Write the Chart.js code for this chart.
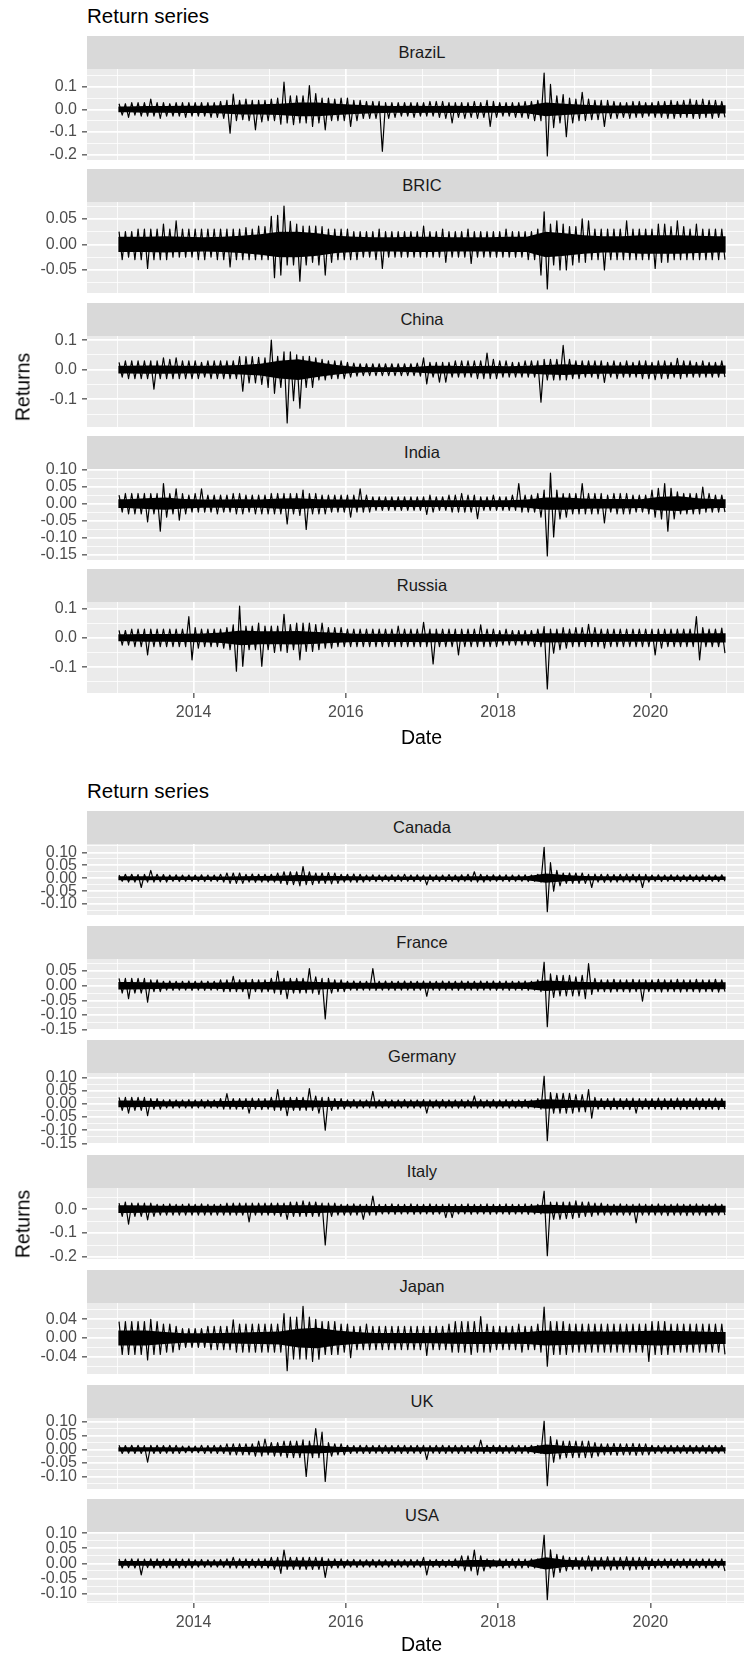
<!DOCTYPE html>
<html>
<head>
<meta charset="utf-8">
<script src="https://cdn.jsdelivr.net/npm/chart.js@4.4.0/dist/chart.umd.min.js"></script>
<style>
  html, body { margin: 0; padding: 0; background: #fff; overflow: hidden; }
  body { width: 744px; height: 1656px; position: relative; font-family: "Liberation Sans", Arial, sans-serif; }
  .txt { position: absolute; white-space: nowrap; }
  .strip { position: absolute; left: 87px; width: 670px; background: #d9d9d9; color: #1a1a1a;
           font-size: 16.5px; text-align: center; }
  canvas { position: absolute; left: 0; }
</style>
</head>
<body>
<script>
// Monthly high / low daily returns in percent, Jan 2013 .. Dec 2020 (one line per year)
const brazilHi = [
  2.5,2.5,3,3,3,4.5,3,3,2.5,3,3,3,
  3,3,3,3,3.5,4,6.7,4,4.5,4,4,4,
  4.5,5,12,6,6,6,10.5,7,5,5,4.5,5,
  5,4,4,3.5,3.5,3.5,3,3,3,3,3,3,
  3,3.5,3.5,3.5,3,3,3,3,3.5,3,4,3.5,
  3,3,3,3,3.5,3.5,4,16,11,6,6.5,5,
  4.5,7.5,4.5,4,4,4,3.5,3,3,3.5,3.5,3,
  3,3.5,3.5,4,3.5,4,4.5,4,4.5,4,4,3.5];
const brazilLo = [
  -2.5,-3.5,-2.5,-3,-3,-3,-4,-3,-3,-3,-3.5,-3,
  -3,-3,-3.5,-3.5,-4,-10.5,-5,-4.5,-5,-9,-5.5,-5,
  -5,-6.5,-6,-6.7,-6,-6,-7.5,-6,-9,-5,-5,-5,
  -7.5,-5,-4,-4,-4,-18.5,-4,-3.5,-3,-3,-3.5,-3,
  -3,-3,-3.5,-4,-6,-3.5,-4,-3.5,-4,-3.5,-7.5,-3.5,
  -3,-3,-3.5,-3.5,-4,-5,-5,-20.5,-8,-6,-12,-6,
  -5,-5,-4.5,-4.5,-7.5,-4,-4,-3.5,-4,-3.5,-3.5,-3,
  -3.5,-3.5,-4,-4,-3.5,-3.5,-4,-4,-3.5,-4,-3.5,-3.5];

const bricHi = [
  2.5,2.5,2.5,3,3,3,3,4,3,4.6,3,3,
  3,3,3,3,3,3,3,3,3.3,3,3.6,3.5,
  5.5,5.7,7.5,4.5,4,3.6,3.6,3.6,3.5,3,3,3,
  3,2.5,2.5,2.5,2.5,3,2.5,2.5,2.5,2.5,2.5,2.5,
  3.6,2.5,2.5,3,2.5,2.5,2.5,3,2.5,2.5,2.5,2.5,
  2.5,3,2.5,2.5,2.5,2.5,3,6.4,4,4.6,4,3.5,
  3.5,5,4.6,3,3,3,3,3,4.6,3,3,3,
  3,4,4,3.5,4.6,3.5,3,4,3,3,3,3];
const bricLo = [
  -3,-2.5,-3,-3,-4.7,-3,-3,-3,-2.5,-2.5,-2.5,-2.5,
  -3,-3,-2.5,-3,-3,-4.4,-3,-3,-3,-3,-3,-3,
  -6.5,-6,-4,-4,-7.2,-4,-3.5,-4,-6,-3.5,-3,-3,
  -3,-3,-2.5,-2.5,-3,-4.7,-2.5,-2.5,-2.5,-2.5,-2.5,-2.5,
  -2.5,-2.5,-2.5,-3.5,-2.5,-2.5,-2.5,-3.7,-2.5,-2.5,-2.5,-2.5,
  -2.5,-2.5,-2.5,-2.5,-3,-3,-6,-8.7,-4,-5,-5,-4,
  -3.5,-3.5,-3,-3,-5,-3,-3,-3,-3,-3,-3,-3,
  -4.7,-3.5,-3.5,-3,-3,-3,-3,-3,-3,-3,-3,-3];

const chinaHi = [
  2.5,3,3,3,3,3,3,4,3.5,4,3,3,
  3,2.5,3,3,3,3,3,4.4,4.4,4.4,4.2,4,
  10,4.5,6,6,5,4.5,4.5,4,3.5,3,3,3,
  2.5,2.2,2,2,2,2,2,2,2,2,2,2.2,
  4,2.5,2.5,2.5,2.5,3,3,3,3,3,5.6,3.5,
  3,3,2.5,2.5,3,3,3,3.5,3.5,3.5,8.2,3.5,
  3,3,3,3,3,2.5,3,2.5,3,2.5,3,3,
  2.5,3,3,2.5,3.8,3,3,2.5,3,2.5,2.5,3];
const chinaLo = [
  -2.5,-3,-3,-3,-3,-6.6,-3,-3,-3,-3,-3,-3,
  -3,-2.5,-3,-3,-3,-3,-3,-7.3,-4.5,-4.5,-5,-6,
  -8,-6,-18,-10.5,-13,-6,-6,-3.5,-3.5,-3,-3,-3,
  -2.5,-2.2,-2,-2,-2,-2,-2,-2,-2,-2,-2,-2.2,
  -4.8,-2.5,-4.2,-4.2,-2.5,-2.5,-2.5,-2.5,-3,-3,-3,-3,
  -2.5,-2.5,-2.5,-2.5,-2.5,-2.5,-11,-3.5,-3.5,-3.5,-3.5,-3,
  -3,-2.5,-2.5,-3,-4.3,-2.5,-3,-2.5,-2.5,-2.5,-3,-3,
  -3.4,-3,-3,-2.5,-3,-2.5,-2.5,-2.5,-2.5,-2.5,-2.5,-2.5];

const indiaHi = [
  2.5,3,3,3,3,3,3,5.9,3,4.4,3,2.5,
  3,4.4,2.5,2.5,2.5,2.5,3,3,2.5,2.5,2.5,2.5,
  3,3,3,3,3,4,3,3,2.5,2.5,2.5,2.5,
  2.5,2.5,4.4,2.5,2,2,2,2,2,2,2,2,
  2,2.5,2,2,2.5,2.5,3,2.5,2.5,2,2,2.5,
  2,2,2.5,5.9,2.5,2.5,3,4,9,4,3,3,
  3,5.9,3,3,3,2.5,3,3,3,2.5,2.5,2.5,
  4,4.5,5.9,4.5,3.5,3,3,3,4.9,3,2.5,2.5];
const indiaLo = [
  -2.5,-3,-3,-3,-5.4,-3,-8.1,-4,-3,-4.9,-3,-2.5,
  -2.5,-2.5,-2.5,-3,-2.5,-2.5,-3,-3,-2.5,-3,-3,-3,
  -3,-3,-6,-3,-3.5,-7.6,-3,-3,-3,-2.5,-2.5,-2.5,
  -4,-2.5,-2.5,-2.5,-2,-2,-2,-2,-2,-2,-2,-2,
  -3.2,-2.5,-2,-2,-2.5,-2.5,-2.5,-2.5,-4.4,-2,-2,-2,
  -2,-2,-2,-2.5,-2.5,-2.5,-4,-15.4,-9.8,-4.5,-4,-3,
  -3,-3,-3,-3,-5.7,-2.5,-3,-3,-3,-2.5,-2.5,-3,
  -4,-4.5,-8.1,-4.5,-3,-3,-3,-3,-2.5,-2.5,-2.5,-2.5];

const russiaHi = [
  2.5,2.5,3,3,3,3,3,3,3,3,3,7.2,
  3.5,3,3,3,3,3.5,4.4,10.8,4,4,5,4,
  4,4,8,4.5,5,5,5,4.5,5,3.5,3.5,3.5,
  3,3,3,3,3,3,3,3,4,3,3,3,
  5.3,3,3,3,3,3,3,3,3,4.4,3,3,
  2.5,3,2.5,2.5,2.5,2.5,3,3.8,3,3,3.5,3,
  3.5,3.5,4.6,3.5,3,3,3,3,3,3,3,3,
  3,3,3,3,3,3,3,7.2,3.5,3,3,3.3];
const russiaLo = [
  -2.5,-2.5,-3,-3,-5.8,-3,-3,-3,-3,-3,-3,-7.5,
  -3.5,-3,-3,-3,-3.5,-4,-11.4,-9.7,-4,-4,-9.7,-4,
  -5,-4.5,-5,-4,-7.5,-4.6,-4.6,-4,-3.5,-3.5,-3,-3,
  -3,-3,-3,-3,-3,-3,-3,-3,-3,-3,-3,-3,
  -3,-8.9,-3,-3,-3,-5.8,-3,-3,-3,-3,-3,-3,
  -2.5,-2.5,-2.5,-2.5,-2.5,-3,-3,-17.4,-5.2,-4,-3.5,-3,
  -3,-3,-3,-3,-3.5,-3,-3,-3,-3,-3,-3,-3,
  -5.8,-3.5,-3,-3,-3,-3,-3,-7.5,-3,-3,-3,-5.2];

const canadaHi = [
  1.2,1.5,1.5,1.4,1.5,3,1.5,1.4,1.2,1.3,1.2,1.2,
  1.2,1.3,1.2,1.2,1.5,2,2,2,1.5,1.6,1.5,1.5,
  1.5,2,2.5,2.5,2.5,4.5,2.5,2,2,2.2,2,1.5,
  1.5,1.6,1.5,1.2,1.3,1.2,1.2,1.3,1.2,1.5,1.2,1.3,
  1.2,1.3,1.2,1.2,1.4,1.2,1.3,1.5,2.5,1.5,1.2,1.3,
  1.2,1.3,1.2,1.2,1.3,1.2,1.5,12,6,3,2,2,
  2,2,1.5,1.6,1.5,1.5,1.4,1.5,1.6,1.5,1.5,1.5,
  1.2,1.3,1.2,1.3,1.2,1.2,1.3,1.2,1.3,1.2,1.2,1.3];
const canadaLo = [
  -1.2,-1.5,-1.5,-3.6,-1.5,-1.5,-1.4,-1.5,-1.2,-1.3,-1.2,-1.2,
  -1.2,-1.3,-1.2,-1.2,-1.5,-2,-2,-2,-1.5,-1.6,-1.5,-1.5,
  -1.5,-2,-2.5,-2.5,-3,-2.5,-2.5,-2,-2,-2.2,-2,-1.5,
  -1.5,-1.6,-1.5,-1.2,-1.3,-1.2,-1.2,-1.3,-1.2,-1.2,-1.3,-1.2,
  -2.6,-1.2,-1.3,-1.2,-1.2,-1.4,-1.2,-1.3,-1.5,-1.5,-1.2,-1.2,
  -1.2,-1.3,-1.2,-1.2,-1.3,-1.2,-1.5,-13,-5,-3,-2,-2,
  -2,-2,-3.6,-1.5,-1.6,-1.5,-1.5,-1.4,-1.5,-1.5,-3.6,-1.5,
  -1.2,-1.3,-1.2,-1.2,-1.3,-1.2,-1.2,-1.3,-1.2,-1.2,-1.3,-1.2];

const franceHi = [
  2.5,2.5,2.5,2.5,2.5,2,2,1.5,1.6,1.5,1.5,1.6,
  1.5,1.6,1.5,1.5,2,2,3.2,2,2,2.2,2,2,
  2.5,5,2.5,2.5,2.5,2.5,5.8,3,2.5,2.5,2,2,
  1.5,1.6,1.5,1.5,5.8,1.5,1.6,1.5,1.5,1.6,1.5,1.5,
  1.6,1.5,1.5,1.6,1.5,1.5,1.6,1.5,1.5,1.6,1.5,1.6,
  1.5,1.6,1.5,1.5,1.6,1.5,2,8,4,3.5,3.5,3.5,
  3,3.5,7.5,2.5,2,2,2.2,2,2,2.2,2,2,
  2,2.2,2,2,2.2,2,2,2.2,2,2,2.2,2];
const franceLo = [
  -2.5,-4.4,-2.5,-2.5,-5.6,-2,-2,-1.5,-1.6,-1.5,-1.5,-1.6,
  -1.5,-1.6,-1.5,-1.5,-2,-2,-2,-2,-4.4,-2,-2.2,-2,
  -2.5,-3,-4.4,-2.5,-2.5,-2.5,-2.5,-3,-11.3,-2.5,-2,-2,
  -1.5,-1.6,-1.5,-1.5,-1.6,-1.5,-1.5,-1.6,-1.5,-1.5,-1.6,-1.5,
  -3.6,-1.5,-1.6,-1.5,-1.5,-1.6,-1.5,-1.5,-1.6,-1.5,-1.5,-1.6,
  -1.5,-1.6,-1.5,-1.5,-1.6,-1.5,-2,-14,-4,-3.5,-3.5,-3.5,
  -3.5,-4.4,-3,-2,-2,-2.2,-2,-2,-2.2,-2,-5.3,-2,
  -2,-2.2,-2,-2,-2.2,-2,-2,-2.2,-2,-2,-2.2,-2];

const germanyHi = [
  2.5,2.5,2.5,2.5,2.5,2,2,1.5,1.6,1.5,1.5,1.6,
  1.5,1.6,1.5,1.5,2,3.9,2,2,2,2.2,2,2,
  2.5,5.4,2.5,2.5,2.5,2.5,5.8,3,2.5,2.5,2,2,
  1.5,1.6,1.5,1.5,4.8,1.5,1.6,1.5,1.5,1.6,1.5,1.5,
  1.6,1.5,1.5,1.6,1.5,1.5,1.6,1.5,3,1.6,1.5,1.6,
  1.5,1.6,1.5,1.5,1.6,1.5,2,10.5,4.3,4,4,4,
  3.5,3.5,5.4,2.5,2,2,2.2,2,2,2.2,2,2,
  2,2.2,2,2,2.2,2,2,2.2,2,2,2.2,2];
const germanyLo = [
  -2.5,-3.5,-2.5,-2.5,-4.5,-2,-2,-1.5,-1.6,-1.5,-1.5,-1.6,
  -1.5,-1.6,-1.5,-1.5,-2,-2,-2,-2,-3.5,-2,-2.2,-2,
  -2.5,-2.5,-4.5,-2.5,-2.5,-2.5,-2.5,-3.5,-10,-2.5,-2,-2,
  -1.5,-1.6,-1.5,-1.5,-1.6,-1.5,-1.5,-1.6,-1.5,-1.5,-1.6,-1.5,
  -3.5,-1.5,-1.6,-1.5,-1.5,-1.6,-1.5,-1.5,-1.6,-1.5,-1.5,-1.6,
  -1.5,-1.6,-1.5,-1.5,-1.6,-1.5,-2,-14,-3.5,-3.5,-3.5,-3.5,
  -3,-3,-5.4,-2,-2,-2.2,-2,-2,-2.2,-3.5,-2,-2,
  -2,-2.2,-2,-2,-2.2,-2,-2,-2.2,-2,-2,-2.2,-2];

const italyHi = [
  2.5,3,2.5,2.5,2.5,2.5,2,2,2.2,2,2,2.2,
  2,2.2,2,2,2,2.5,2.5,2.5,2.5,2.5,2.5,2.5,
  2.5,2.5,2.5,3,3,3.5,3,3,2.5,2.5,2.5,2,
  2,2.2,2,2,5.5,2,2,2.2,2,2,2.2,2,
  2,2.2,2,2,2.2,2,2,2.2,2,2,2.2,2,
  2,2.2,2,2,2.2,2,2,7.5,3,3,3,3,
  3.5,3,3,2.5,2.5,2,2,2.2,2,2,2.2,2,
  2,2.2,2,2,2.2,2,2,2.2,2,2,2.2,2];
const italyLo = [
  -3,-6.3,-3,-3,-4.5,-3,-2.5,-2.5,-2.5,-2.5,-2.5,-2.5,
  -2.5,-2.5,-2.5,-2.5,-2.5,-2.5,-2.5,-2.5,-5.3,-2.5,-2.5,-2.5,
  -2.5,-3,-4.3,-3,-3,-3,-3,-3,-15,-3,-2.5,-2.5,
  -2.5,-2.5,-4.3,-2.5,-2.5,-2,-2,-2.2,-2,-2,-2.2,-2,
  -2,-2.2,-2,-3.5,-3.5,-2,-2,-2.2,-2,-2,-2.2,-2,
  -2,-2.2,-2,-2,-2.2,-2,-2,-19.5,-4.3,-4.3,-4,-4,
  -3.5,-3,-3,-2.5,-2.5,-2.5,-2.5,-2.5,-2.5,-5.7,-2.5,-2.5,
  -2.5,-2.5,-2.7,-2.5,-2.5,-2.7,-2.5,-2.5,-2.7,-2.5,-2.5,-2.5];

const japanHi = [
  3.5,3.5,3.5,3.5,3.5,4,3.5,3,3,2.5,2,2,
  2,2,2.5,2.5,2.5,2.5,3.9,3,3,3,3,3,
  3,3,5.2,4.5,4.5,6.8,4.5,4,3.5,3.5,3.5,3,
  3,2.5,2.5,3,2.5,2.5,2.5,2.5,2.5,2.5,2.5,2.5,
  2.5,2.5,2.5,2.5,3,3.5,3.5,3.5,3.5,4.6,3,2.5,
  2.5,2.5,2.5,3,2.5,2.5,3,6.6,3.5,3.5,3.5,3,
  3,3,3,3,3,3,3,3,3,3,3,3,
  3.5,3.5,3.5,3,3,3,3,3,3,3,3,3];
const japanLo = [
  -3.5,-3.5,-3.5,-3.5,-4.7,-3.5,-3.5,-3,-3,-2.5,-2,-2,
  -2,-2,-2.5,-2.5,-2.5,-2.5,-3,-3,-3,-3,-3,-3,
  -3,-3,-7,-4.5,-4.5,-4.5,-5,-4.5,-3.5,-3.5,-3.5,-3,
  -4.2,-2.5,-2.5,-2.5,-2.5,-2.5,-2.5,-2.5,-2.5,-2.5,-2.5,-2.5,
  -3.7,-2.5,-2.5,-2.5,-3,-3,-3,-3.5,-3,-3,-3,-2.5,
  -2.5,-2.5,-2.5,-3,-2.5,-2.5,-3,-6,-3.5,-3.5,-3.5,-3,
  -3,-3,-3,-3,-3,-3,-3,-3,-3,-3,-3,-5,
  -3.5,-3.5,-3.5,-3,-3,-3,-3,-3,-3,-3,-3,-3.5];

const ukHi = [
  1.5,1.4,1.5,1.5,1.4,1.5,1.5,1.4,1.5,1.5,1.2,1.2,
  1.2,1.5,1.4,1.5,1.5,2,2,2,2,2,3,3.8,
  2.5,2.5,3,3,3,3.5,3,7.6,6.3,2.5,2,2,
  1.5,1.4,1.5,1.5,1.4,1.5,1.5,1.4,1.5,1.5,1.4,1.5,
  1.5,1.4,1.5,1.5,1.4,1.5,1.5,1.4,1.5,3.4,1.5,1.5,
  1.5,1.4,1.5,1.5,1.4,1.5,1.5,10.3,4.7,3.5,3,3,
  3,3,3,2.5,2,2,2.2,2,2,2.2,2,2,
  1.5,1.4,1.5,1.5,1.4,1.5,1.5,1.4,1.5,1.5,1.4,1.5];
const ukLo = [
  -1.5,-1.4,-1.5,-1.5,-4.7,-1.5,-1.5,-1.4,-1.5,-1.5,-1.2,-1.2,
  -1.2,-1.5,-1.4,-1.5,-1.5,-2,-2,-2,-2,-2.5,-2.5,-2,
  -2.5,-2.5,-3,-3,-3,-9.9,-3,-3,-11.7,-2.5,-2,-2,
  -1.5,-1.4,-1.5,-1.5,-1.4,-1.5,-1.5,-1.4,-1.5,-1.5,-1.4,-1.5,
  -3.7,-1.4,-1.5,-1.5,-1.4,-1.5,-1.5,-1.4,-1.5,-1.5,-1.4,-1.5,
  -1.5,-1.4,-1.5,-1.5,-1.4,-1.5,-1.5,-13.3,-4.7,-3.5,-3,-3,
  -3,-3,-3,-2.5,-2,-2,-2.2,-2,-2,-2.2,-2,-2,
  -1.5,-1.4,-1.5,-1.5,-1.4,-1.5,-1.5,-1.4,-1.5,-1.5,-1.4,-1.5];

const usaHi = [
  1.5,1.4,1.5,1.5,1.4,1.5,1.5,1.4,1.5,1.5,1.4,1.5,
  1.2,1.3,1.2,1.2,1.3,1.5,2,1.5,1.5,1.4,1.5,1.5,
  2,2,4.4,2,2,2,2,2,2,1.5,1.5,1.5,
  1.2,1.3,1.2,1.2,1.3,1.2,1.2,1.3,1.2,1.2,1.3,1.2,
  2,1.2,1.3,1.2,1.2,1.5,2.5,2.5,4.4,2.5,1.5,1.2,
  1.5,1.4,1.5,1.5,1.4,1.5,1.5,9.3,4.5,3,2.5,2,
  2,2,2.5,2,2,2.2,2,2,2.2,2,2,2,
  1.5,1.4,1.5,1.5,1.4,1.5,1.5,1.4,1.5,1.5,1.4,1.5];
const usaLo = [
  -1.5,-1.4,-1.5,-3.8,-1.4,-1.5,-1.5,-1.4,-1.5,-1.5,-1.4,-1.5,
  -1.2,-1.3,-1.2,-1.2,-1.3,-1.5,-1.5,-1.5,-1.5,-1.4,-1.5,-1.5,
  -2,-3.3,-2,-2,-2,-2,-2,-2,-4.6,-1.5,-1.5,-1.5,
  -1.2,-1.3,-1.2,-1.2,-1.3,-1.2,-1.2,-1.3,-1.2,-1.2,-1.3,-1.2,
  -3.8,-1.2,-1.3,-1.2,-1.2,-1.5,-2.5,-2.5,-3.8,-2.5,-1.5,-1.2,
  -1.5,-1.4,-1.5,-1.5,-1.4,-1.5,-1.5,-12,-4.5,-3,-2.5,-2,
  -2,-2,-2.5,-2,-2,-2.2,-2,-2,-2.2,-2,-2,-2,
  -1.5,-1.4,-1.5,-1.5,-1.4,-1.5,-1.5,-1.4,-1.5,-1.5,-1.4,-2.5];

// Quarterly half-width of the dense core of the series, percent, 2013Q1 .. 2020Q4
const brazilCore  = [1.3,1.5,1.5,1.6, 1.6,1.8,2.2,2.3, 2.5,3,3,2.5, 2,1.7,1.5,1.6, 1.5,1.6,1.5,1.5, 1.5,1.7,3,2.5, 2,1.7,1.7,1.8, 1.8,2,2,1.8];
const bricCore    = [1.5,1.5,1.6,1.5, 1.4,1.5,1.7,2, 2.5,2.5,2.2,1.7, 1.5,1.4,1.4,1.5, 1.5,1.4,1.4,1.4, 1.5,1.5,2.5,2.2, 1.8,1.6,1.6,1.8, 1.8,1.8,1.7,1.6];
const chinaCore   = [1.3,1.4,1.4,1.3, 1.3,1.4,1.6,2, 3,3.5,2.5,1.6, 1,0.8,0.8,0.9, 1.3,1.3,1.2,1.3, 1.2,1.3,1.6,1.8, 1.5,1.4,1.4,1.5, 1.4,1.5,1.4,1.4];
const indiaCore   = [1.3,1.6,1.8,1.4, 1.2,1.2,1.3,1.2, 1.5,1.6,1.3,1.2, 1.2,1,1,1, 1,1,1,1, 1,1.2,1.8,1.8, 1.5,1.4,1.4,1.3, 2,2.2,1.6,1.3];
const russiaCore  = [1.2,1.3,1.3,1.4, 1.5,1.8,2.5,2.2, 2.2,2.3,2,1.7, 1.4,1.4,1.4,1.4, 1.5,1.3,1.3,1.3, 1.2,1.2,1.6,1.5, 1.4,1.4,1.3,1.3, 1.3,1.5,1.5,1.6];
const canadaCore  = [0.8,0.8,0.7,0.7, 0.7,0.7,0.8,0.9, 1,1.2,1,0.9, 0.8,0.7,0.7,0.7, 0.7,0.7,0.8,0.8, 0.7,0.8,1.8,1.2, 0.9,0.8,0.8,0.8, 0.7,0.7,0.7,0.7];
const franceCore  = [1.3,1.2,1,1, 1,1.1,1.2,1.2, 1.4,1.5,1.3,1.1, 1,1,1,1, 1,1,1,1, 1,1.1,1.8,1.5, 1.3,1.2,1.2,1.2, 1.2,1.2,1.2,1.2];
const germanyCore = [1.3,1.2,1,1, 1,1.1,1.2,1.2, 1.4,1.5,1.3,1.1, 1,1,1,1, 1,1,1,1, 1,1.1,1.8,1.6, 1.3,1.2,1.2,1.2, 1.2,1.2,1.2,1.2];
const italyCore   = [1.6,1.5,1.4,1.4, 1.4,1.4,1.5,1.5, 1.6,1.6,1.6,1.4, 1.4,1.3,1.3,1.3, 1.3,1.3,1.3,1.3, 1.3,1.3,1.8,1.6, 1.5,1.4,1.4,1.4, 1.4,1.4,1.4,1.4];
const japanCore   = [1.6,1.6,1.3,1, 1,1.1,1.2,1.3, 1.4,2,2.2,1.6, 1.3,1.1,1.1,1.1, 1.1,1.2,1.3,1.3, 1.2,1.3,1.6,1.5, 1.4,1.4,1.4,1.5, 1.6,1.5,1.4,1.3];
const ukCore      = [0.8,0.8,0.8,0.7, 0.7,0.8,0.9,1.1, 1.2,1.4,1.5,1, 0.8,0.8,0.8,0.8, 0.8,0.8,0.8,0.9, 0.8,0.8,1.8,1.3, 1.1,1,0.9,0.9, 0.8,0.8,0.8,0.8];
const usaCore     = [0.8,0.8,0.8,0.8, 0.7,0.7,0.8,0.8, 1,1,0.9,0.8, 0.7,0.7,0.7,0.7, 0.8,0.8,1.1,1.1, 0.8,0.8,2,1.2, 1,1,0.9,0.9, 0.8,0.8,0.8,0.8];

// y-axis break labels of each facet
const brazilTicks  = [0.1, 0, -0.1, -0.2];
const bricTicks    = [0.05, 0, -0.05];
const chinaTicks   = [0.1, 0, -0.1];
const indiaTicks   = [0.1, 0.05, 0, -0.05, -0.1, -0.15];
const russiaTicks  = [0.1, 0, -0.1];
const canadaTicks  = [0.1, 0.05, 0, -0.05, -0.1];
const franceTicks  = [0.05, 0, -0.05, -0.1, -0.15];
const germanyTicks = [0.1, 0.05, 0, -0.05, -0.1, -0.15];
const italyTicks   = [0, -0.1, -0.2];
const japanTicks   = [0.04, 0, -0.04];
const ukTicks      = [0.1, 0.05, 0, -0.05, -0.1];
const usaTicks     = [0.1, 0.05, 0, -0.05, -0.1];

// x axis (years)
const startYear = 2013;
const endYear = 2021;
const xGridYears = [2013, 2014, 2015, 2016, 2017, 2018, 2019, 2020, 2021];
const xLabelYears = [2014, 2016, 2018, 2020];

const FONT = '"Liberation Sans", Arial, sans-serif';
const CANVAS_W = 757;
const AXIS_W = 87;
const PAD = 12;

const figures = [
  { title: 'Return series', titleY: 16, stripTop: 36, pitch: 133.25, stripH: 33, panelH: 91,
    yTitleY: 387, xTitleY: 737,
    panels: [
      { name: 'BraziL', hi: brazilHi, lo: brazilLo, core: brazilCore, ticks: brazilTicks, dp: 1 },
      { name: 'BRIC',   hi: bricHi,   lo: bricLo,   core: bricCore,   ticks: bricTicks,   dp: 2 },
      { name: 'China',  hi: chinaHi,  lo: chinaLo,  core: chinaCore,  ticks: chinaTicks,  dp: 1 },
      { name: 'India',  hi: indiaHi,  lo: indiaLo,  core: indiaCore,  ticks: indiaTicks,  dp: 2 },
      { name: 'Russia', hi: russiaHi, lo: russiaLo, core: russiaCore, ticks: russiaTicks, dp: 1 }
    ] },
  { title: 'Return series', titleY: 791, stripTop: 811, pitch: 114.7, stripH: 33, panelH: 71,
    yTitleY: 1224, xTitleY: 1644,
    panels: [
      { name: 'Canada',  hi: canadaHi,  lo: canadaLo,  core: canadaCore,  ticks: canadaTicks,  dp: 2 },
      { name: 'France',  hi: franceHi,  lo: franceLo,  core: franceCore,  ticks: franceTicks,  dp: 2 },
      { name: 'Germany', hi: germanyHi, lo: germanyLo, core: germanyCore, ticks: germanyTicks, dp: 2 },
      { name: 'Italy',   hi: italyHi,   lo: italyLo,   core: italyCore,   ticks: italyTicks,   dp: 1 },
      { name: 'Japan',   hi: japanHi,   lo: japanLo,   core: japanCore,   ticks: japanTicks,   dp: 2 },
      { name: 'UK',      hi: ukHi,      lo: ukLo,      core: ukCore,      ticks: ukTicks,      dp: 2 },
      { name: 'USA',     hi: usaHi,     lo: usaLo,     core: usaCore,     ticks: usaTicks,     dp: 2 }
    ] }
];

// grey panel background, like theme_grey
const panelBg = {
  id: 'panelBg',
  beforeDraw(chart) {
    const a = chart.chartArea;
    const ctx = chart.ctx;
    ctx.save();
    ctx.fillStyle = '#ebebeb';
    ctx.fillRect(a.left, a.top, a.right - a.left, a.bottom - a.top);
    ctx.restore();
  }
};

function addText(text, css) {
  const d = document.createElement('div');
  d.className = 'txt';
  d.textContent = text;
  Object.assign(d.style, css);
  document.body.appendChild(d);
  return d;
}

function makePanel(p, top, panelH, showX) {
  // zigzag between the monthly high and low
  const pts = [];
  for (let m = 0; m < p.hi.length; m++) {
    pts.push({ x: startYear + (m + 0.25) / 12, y: p.hi[m] / 100 });
    pts.push({ x: startYear + (m + 0.75) / 12, y: p.lo[m] / 100 });
  }
  // dense core band, quarterly
  const coreUp = [], coreDn = [];
  const pushCore = (x, v) => { coreUp.push({ x: x, y: v / 100 }); coreDn.push({ x: x, y: -v / 100 }); };
  pushCore(startYear + 0.01, p.core[0]);
  p.core.forEach((v, q) => pushCore(startYear + (q + 0.5) / 4, v));
  pushCore(endYear - 0.01, p.core[p.core.length - 1]);

  const yMaxData = Math.max(...p.hi) / 100;
  const yMinData = Math.min(...p.lo) / 100;
  const span = yMaxData - yMinData;
  const yMin = yMinData - span * 0.05;
  const yMax = yMaxData + span * 0.05;

  const step = Math.abs(p.ticks[0] - p.ticks[1]);
  const yTicks = p.ticks.map(v => ({ value: v, isMajor: true }));
  p.ticks.forEach(v => {
    [v + step / 2, v - step / 2].forEach(m => {
      if (m > yMin && m < yMax && !yTicks.some(t => Math.abs(t.value - m) < 1e-9)) {
        yTicks.push({ value: m, isMajor: false });
      }
    });
  });
  yTicks.sort((a, b) => a.value - b.value);

  const xAxisH = showX ? 40 : 0;
  const h = PAD + panelH + (showX ? xAxisH : PAD);
  const canvas = document.createElement('canvas');
  canvas.width = CANVAS_W;
  canvas.height = h;
  canvas.style.width = CANVAS_W + 'px';
  canvas.style.height = h + 'px';
  canvas.style.top = (top - PAD) + 'px';
  document.body.appendChild(canvas);

  new Chart(canvas, {
    type: 'line',
    data: {
      datasets: [
        { data: coreUp, borderWidth: 0, pointRadius: 0, tension: 0, fill: '+1', backgroundColor: '#000000' },
        { data: coreDn, borderWidth: 0, pointRadius: 0, tension: 0, fill: false },
        {
          data: pts,
          borderColor: '#000000',
          borderWidth: 1.2,
          borderJoinStyle: 'round',
          pointRadius: 0,
          tension: 0,
          fill: false
        }
      ]
    },
    options: {
      responsive: false,
      animation: false,
      events: [],
      layout: { padding: { top: PAD, bottom: showX ? 0 : PAD, left: 0, right: 0 } },
      plugins: { legend: { display: false }, tooltip: { enabled: false } },
      scales: {
        x: {
          type: 'linear',
          min: 2012.6,
          max: 2021.4,
          afterBuildTicks: ax => {
            ax.ticks = xGridYears.map(v => ({ value: v, isMajor: xLabelYears.includes(v) }));
          },
          afterFit: ax => { ax.height = xAxisH; ax.paddingLeft = 0; ax.paddingRight = 0; },
          border: { display: false },
          grid: {
            color: '#ffffff',
            lineWidth: c => (c.tick && c.tick.isMajor ? 1.7 : 0.8),
            drawTicks: showX,
            tickLength: 5,
            tickWidth: 1.1,
            tickColor: c => (c.tick && c.tick.isMajor ? '#333333' : 'rgba(0,0,0,0)')
          },
          ticks: {
            display: showX,
            autoSkip: false,
            maxRotation: 0,
            padding: 5,
            color: '#4d4d4d',
            font: { family: FONT, size: 16 },
            callback: v => (xLabelYears.includes(v) ? String(v) : '')
          }
        },
        y: {
          min: yMin,
          max: yMax,
          afterBuildTicks: ax => { ax.ticks = yTicks.map(t => ({ value: t.value, isMajor: t.isMajor })); },
          afterFit: ax => { ax.width = AXIS_W; ax.paddingTop = 0; ax.paddingBottom = 0; },
          border: { display: false },
          grid: {
            color: '#ffffff',
            lineWidth: c => (c.tick && c.tick.isMajor ? 1.7 : 0.8),
            tickLength: 5,
            tickWidth: 1.1,
            tickColor: c => (c.tick && c.tick.isMajor ? '#333333' : 'rgba(0,0,0,0)')
          },
          ticks: {
            autoSkip: false,
            padding: 5,
            color: '#4d4d4d',
            font: { family: FONT, size: 16 },
            callback: (v, i, arr) => (arr[i].isMajor ? v.toFixed(p.dp) : '')
          }
        }
      }
    },
    plugins: [panelBg]
  });
}

figures.forEach(fig => {
  addText(fig.title, { left: '87px', top: (fig.titleY - 12) + 'px', height: '24px', lineHeight: '24px',
    fontSize: '20.5px', color: '#000' });

  fig.panels.forEach((p, i) => {
    const stripTop = Math.round(fig.stripTop + i * fig.pitch);
    const strip = document.createElement('div');
    strip.className = 'strip';
    strip.textContent = p.name;
    strip.style.top = stripTop + 'px';
    strip.style.height = fig.stripH + 'px';
    strip.style.lineHeight = fig.stripH + 'px';
    document.body.appendChild(strip);
    makePanel(p, stripTop + fig.stripH, fig.panelH, i === fig.panels.length - 1);
  });

  addText('Returns', { left: '23px', top: fig.yTitleY + 'px', fontSize: '19.5px', color: '#000',
    transform: 'translate(-50%, -50%) rotate(-90deg)' });
  addText('Date', { left: '421.5px', top: fig.xTitleY + 'px', fontSize: '19.5px', color: '#000',
    transform: 'translate(-50%, -50%)' });
});
</script>
</body>
</html>
